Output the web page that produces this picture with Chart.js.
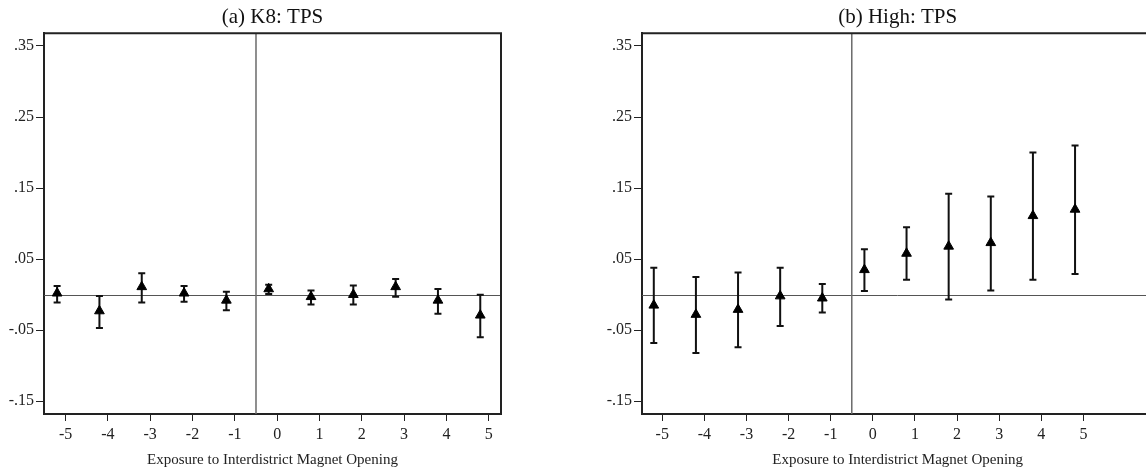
<!DOCTYPE html>
<html>
<head>
<meta charset="utf-8">
<script src="https://cdn.jsdelivr.net/npm/chart.js@4.4.0/dist/chart.umd.min.js"></script>
<style>
  html, body { margin: 0; padding: 0; background: #fff; overflow: hidden; }
  body { width: 1146px; height: 475px; position: relative; }
  .panel { position: absolute; top: 0; height: 475px; }
  #left { left: 0; width: 573px; }
  #right { left: 598px; width: 562px; }
</style>
</head>
<body>
<div class="panel" id="left"><canvas id="k8Chart"></canvas></div>
<div class="panel" id="right"><canvas id="highChart"></canvas></div>
<script>
// event time relative to magnet opening
const eventTimes = [-5, -4, -3, -2, -1, 0, 1, 2, 3, 4, 5];

// (a) K8: TPS
const k8Est = [0.002, -0.023, 0.011, 0.002, -0.008, 0.008, -0.003, 0.000, 0.011, -0.008, -0.029];
const k8Lo = [-0.011, -0.047, -0.011, -0.010, -0.022, 0.001, -0.014, -0.014, -0.003, -0.027, -0.060];
const k8Hi = [0.012, -0.002, 0.030, 0.012, 0.004, 0.014, 0.006, 0.013, 0.022, 0.008, 0.000];

// (b) High: TPS
const highEst = [-0.015, -0.028, -0.021, -0.002, -0.005, 0.035, 0.058, 0.068, 0.073, 0.111, 0.120];
const highLo = [-0.068, -0.082, -0.074, -0.044, -0.025, 0.005, 0.021, -0.007, 0.006, 0.021, 0.029];
const highHi = [0.038, 0.025, 0.031, 0.038, 0.015, 0.064, 0.095, 0.142, 0.138, 0.200, 0.210];

const yTickValues = [0.35, 0.25, 0.15, 0.05, -0.05, -0.15];
const yTickLabels = [".35", ".25", ".15", ".05", "-.05", "-.15"];

const xTitle = "Exposure to Interdistrict Magnet Opening";
const markerShift = -0.2;
const serif = "'Liberation Serif', 'DejaVu Serif', serif";

// frame, reference lines and error bars
const decorations = {
  id: "decorations",
  beforeDatasetsDraw(chart, args, opts) {
    const { ctx, chartArea: a, scales: { x, y } } = chart;
    ctx.save();
    // zero line
    ctx.strokeStyle = "#555";
    ctx.lineWidth = 1;
    ctx.beginPath();
    ctx.moveTo(a.left, Math.round(y.getPixelForValue(0)) + 0.5);
    ctx.lineTo(a.right, Math.round(y.getPixelForValue(0)) + 0.5);
    ctx.stroke();
    // opening line
    ctx.strokeStyle = "#6a6a6a";
    ctx.lineWidth = 1.5;
    ctx.beginPath();
    ctx.moveTo(x.getPixelForValue(-0.5), a.top);
    ctx.lineTo(x.getPixelForValue(-0.5), a.bottom);
    ctx.stroke();
    // error bars
    ctx.strokeStyle = "#111";
    ctx.lineWidth = 2;
    opts.lo.forEach((lo, i) => {
      const px = x.getPixelForValue(eventTimes[i] + markerShift);
      const pLo = y.getPixelForValue(lo);
      const pHi = y.getPixelForValue(opts.hi[i]);
      ctx.beginPath();
      ctx.moveTo(px, pLo);
      ctx.lineTo(px, pHi);
      ctx.moveTo(px - 3.5, pLo);
      ctx.lineTo(px + 3.5, pLo);
      ctx.moveTo(px - 3.5, pHi);
      ctx.lineTo(px + 3.5, pHi);
      ctx.stroke();
    });
    // top and right frame
    ctx.strokeStyle = "#222";
    ctx.lineWidth = 2;
    ctx.beginPath();
    ctx.moveTo(a.left, a.top);
    ctx.lineTo(a.right, a.top);
    ctx.lineTo(a.right, a.bottom);
    ctx.stroke();
    ctx.restore();
  },
};

function makeChart(id, title, est, lo, hi, xMin, xMax, padRight) {
  return new Chart(document.getElementById(id).getContext("2d"), {
    type: "scatter",
    data: {
      datasets: [
        {
          data: eventTimes.map((t, i) => ({ x: t + markerShift, y: est[i] })),
          pointStyle: "triangle",
          pointRadius: 5.6,
          pointBackgroundColor: "#000",
          pointBorderColor: "#000",
          pointBorderWidth: 1,
        },
      ],
    },
    options: {
      responsive: true,
      maintainAspectRatio: false,
      animation: false,
      events: [],
      layout: { padding: { left: 0, right: padRight, top: 0, bottom: 0 } },
      scales: {
        x: {
          type: "linear",
          min: xMin,
          max: xMax,
          afterBuildTicks: (s) => {
            s.ticks = eventTimes.map((v) => ({ value: v }));
          },
          afterFit: (s) => {
            s.height = 61;
          },
          grid: { drawOnChartArea: false, color: "#222", tickLength: 7 },
          border: { color: "#222", width: 2 },
          ticks: {
            color: "#222",
            padding: 4,
            font: { family: serif, size: 16 },
            autoSkip: false,
            maxRotation: 0,
            callback: (v) => String(v),
          },
          title: {
            display: true,
            text: xTitle,
            color: "#222",
            font: { family: serif, size: 15 },
            padding: { top: 2, bottom: 6 },
          },
        },
        y: {
          min: -0.168,
          max: 0.368,
          afterBuildTicks: (s) => {
            s.ticks = yTickValues.map((v) => ({ value: v }));
          },
          afterFit: (s) => {
            s.width = 44;
          },
          grid: { drawOnChartArea: false, color: "#222", tickLength: 8 },
          border: { color: "#222", width: 2 },
          ticks: {
            color: "#222",
            padding: 2,
            font: { family: serif, size: 16 },
            autoSkip: false,
            callback: (v) => yTickLabels[yTickValues.findIndex((t) => Math.abs(t - v) < 1e-9)],
          },
        },
      },
      plugins: {
        legend: { display: false },
        tooltip: { enabled: false },
        title: {
          display: true,
          text: title,
          fullSize: false,
          color: "#111",
          font: { family: serif, size: 21, weight: "normal" },
          padding: { top: 5, bottom: 3 },
        },
        decorations: { lo: lo, hi: hi },
      },
    },
    plugins: [decorations],
  });
}

makeChart("k8Chart", "(a) K8: TPS", k8Est, k8Lo, k8Hi, -5.51, 5.29, 72);
makeChart("highChart", "(b) High: TPS", highEst, highLo, highHi, -5.48, 6.66, 2);
</script>
</body>
</html>
